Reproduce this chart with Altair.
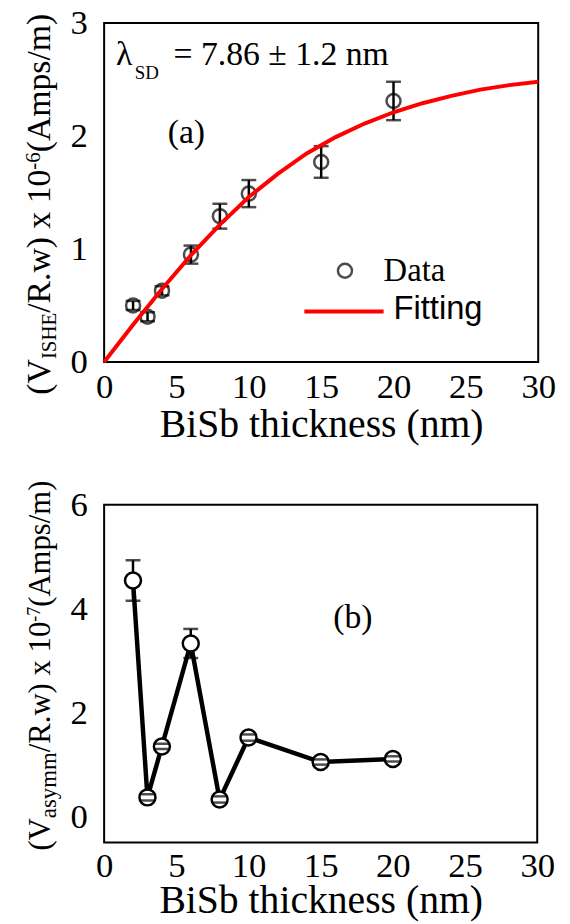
import altair as alt
import pandas as pd

# ---------------- data ----------------
a_x = [2, 3, 4, 6, 8, 10, 15, 20]
a_y = [0.50, 0.40, 0.63, 0.95, 1.29, 1.49, 1.77, 2.31]
a_err = [0.04, 0.04, 0.04, 0.08, 0.11, 0.12, 0.14, 0.17]

fit_x = [0, 2, 4, 6, 8, 10, 12, 14, 16, 18, 20, 22, 24, 26, 28, 30]
fit_y = [0.0, 0.33, 0.645, 0.945, 1.215, 1.46, 1.665, 1.845, 1.99, 2.11,
         2.21, 2.29, 2.355, 2.41, 2.45, 2.48]

b_x = [2, 3, 4, 6, 8, 10, 15, 20]
b_y = [4.54, 0.37, 1.35, 3.33, 0.33, 1.52, 1.05, 1.11]
b_err = [0.39, 0.06, 0.05, 0.28, 0.06, 0.06, 0.05, 0.05]

x_major = [0, 5, 10, 15, 20, 25, 30]
a_y_major = [0, 1, 2, 3]
b_y_major = [0, 2, 4, 6]

x_label = "BiSb thickness (nm)"
a_title_parts = ["(V", "ISHE", "/R.w) x 10", "-6", "(Amps/m)"]
b_title_parts = ["(V", "asymm", "/R.w) x 10", "-7", "(Amps/m)"]
lambda_txt = ["λ", "SD", "= 7.86 ± 1.2 nm"]
legend_txt = ["Data", "Fitting"]

SERIF = "Liberation Serif"
SANS = "Liberation Sans"

TW = {'(': 333, ')': 333, 'V': 722, 'I': 333, 'S': 556, 'H': 722, 'E': 611,
      '/': 278, 'R': 667, '.': 250, 'w': 722, ' ': 250, 'x': 500, '1': 500,
      '0': 500, '-': 333, '6': 500, '7': 500, 'A': 722, 'm': 778, 'p': 500,
      's': 389, 'a': 444, 'y': 500}


def tw(s, fs):
    return sum(TW.get(c, 500) for c in s) * fs / 1000.0


one = pd.DataFrame({'k': [0]})


def txt(s, x, y, size, font=SERIF, angle=None, align='left', baseline='alphabetic'):
    kw = dict(text=s, font=font, fontSize=size, align=align, baseline=baseline,
              color='black')
    if angle is not None:
        kw['angle'] = angle
    return alt.Chart(one).mark_text(**kw).encode(x=alt.value(x), y=alt.value(y))


def ytitle(parts, sizes, shifts, y0, xb):
    layers = []
    y = y0
    for s, fs, dx in zip(parts, sizes, shifts):
        layers.append(txt(s, xb + dx, y, fs, angle=270))
        y -= tw(s, fs)
    return layers


def axes(ydom, ymaj, lpx, lpy, title_y):
    xs = alt.Scale(domain=[0, 30], nice=False, zero=False)
    ys = alt.Scale(domain=ydom, nice=False, zero=False)
    xaxis = alt.Axis(values=x_major, ticks=False, domain=False, grid=False,
                     labelFont=SERIF, labelFontSize=35, labelColor='black',
                     labelPadding=lpx, labelFlush=False, labelOverlap=False,
                     title=x_label, titleFont=SERIF, titleFontSize=40,
                     titleFontWeight='normal', titleColor='black',
                     titleY=title_y, titleBaseline='alphabetic')
    yaxis = alt.Axis(values=ymaj, ticks=False, domain=False, grid=False,
                     labelFont=SERIF, labelFontSize=35, labelColor='black',
                     labelPadding=lpy, labelFlush=False, labelOverlap=False,
                     title=None)

    def X(f='x'):
        return alt.X(f + ':Q', scale=xs, axis=xaxis)

    def Y(f='y'):
        return alt.Y(f + ':Q', scale=ys, axis=yaxis)
    return X, Y


# ---------------- panel (a) ----------------
W1, H1 = 438, 342
Xa, Ya = axes([0, 3], a_y_major, 8, 17, 75)
da = pd.DataFrame({'x': a_x, 'y': a_y,
                   'lo': [v - e for v, e in zip(a_y, a_err)],
                   'hi': [v + e for v, e in zip(a_y, a_err)]})
dfit = pd.DataFrame({'x': fit_x, 'y': fit_y})

la = []
la.append(alt.Chart(da).mark_rule(color='black', strokeWidth=2.5).encode(
    x=Xa(), y=Ya('lo'), y2='hi'))
la.append(alt.Chart(da).mark_tick(orient='horizontal', size=15, thickness=2.5,
                                  color='black').encode(x=Xa(), y=Ya('lo')))
la.append(alt.Chart(da).mark_tick(orient='horizontal', size=15, thickness=2.5,
                                  color='black').encode(x=Xa(), y=Ya('hi')))
la.append(alt.Chart(da).mark_point(shape='circle', size=200, filled=False,
                                   color='black', strokeWidth=2.5).encode(x=Xa(), y=Ya()))
la.append(alt.Chart(dfit).mark_line(color='#ff0000', strokeWidth=4).encode(
    x=Xa(), y=Ya()))
la.append(txt(lambda_txt[0], 12, 42, 34))
la.append(txt(lambda_txt[1], 31, 57, 19))
la.append(txt(lambda_txt[2], 70, 42, 34))
la.append(txt("(a)", 83, 121, 34, align='center'))
la.append(alt.Chart(one).mark_point(shape='circle', size=200, filled=False,
                                    color='black', strokeWidth=2.5).encode(
    x=alt.value(243), y=alt.value(250)))
la.append(txt(legend_txt[0], 282, 260, 33))
la.append(alt.Chart(one).mark_rule(color='#ff0000', strokeWidth=4).encode(
    x=alt.value(202), x2=alt.value(282), y=alt.value(291)))
la.append(txt(legend_txt[1], 292, 299, 33, font=SANS))
la += ytitle(a_title_parts, [34, 21, 34, 21, 34], [0, 6, 0, -10, 0], 375, -55)

top = alt.layer(*la).properties(width=W1, height=H1)

# ---------------- panel (b) ----------------
W2, H2 = 437, 341
Xb, Yb = axes([-0.5, 6], b_y_major, 6, 17, 71)
db = pd.DataFrame({'x': b_x, 'y': b_y,
                   'lo': [v - e for v, e in zip(b_y, b_err)],
                   'hi': [v + e for v, e in zip(b_y, b_err)]})
lb = []
lb.append(alt.Chart(db).mark_line(color='black', strokeWidth=4.5).encode(
    x=Xb(), y=Yb()))
lb.append(alt.Chart(db).mark_rule(color='black', strokeWidth=2.5).encode(
    x=Xb(), y=Yb('lo'), y2='hi'))
lb.append(alt.Chart(db).mark_point(shape='circle', size=260, filled=True,
                                   fill='white', fillOpacity=1, stroke='black',
                                   strokeWidth=2.5, opacity=1).encode(x=Xb(), y=Yb()))
lb.append(alt.Chart(db).mark_tick(orient='horizontal', size=15, thickness=2.5,
                                  color='black').encode(x=Xb(), y=Yb('lo')))
lb.append(alt.Chart(db).mark_tick(orient='horizontal', size=15, thickness=2.5,
                                  color='black').encode(x=Xb(), y=Yb('hi')))
lb.append(txt("(b)", 251, 124, 34, align='center'))
lb += ytitle(b_title_parts, [31, 23, 31, 18, 31], [0, 6, 0, -10, 0], 349, -55)

bot = alt.layer(*lb).properties(width=W2, height=H2)

chart = alt.vconcat(top, bot, spacing=34).properties(
    padding={'left': 13, 'top': -7, 'right': 5, 'bottom': 0},
    background='white'
).configure_view(stroke='black', strokeWidth=2)

chart.save("out.html", embed_options={"renderer": "svg", "actions": False})
